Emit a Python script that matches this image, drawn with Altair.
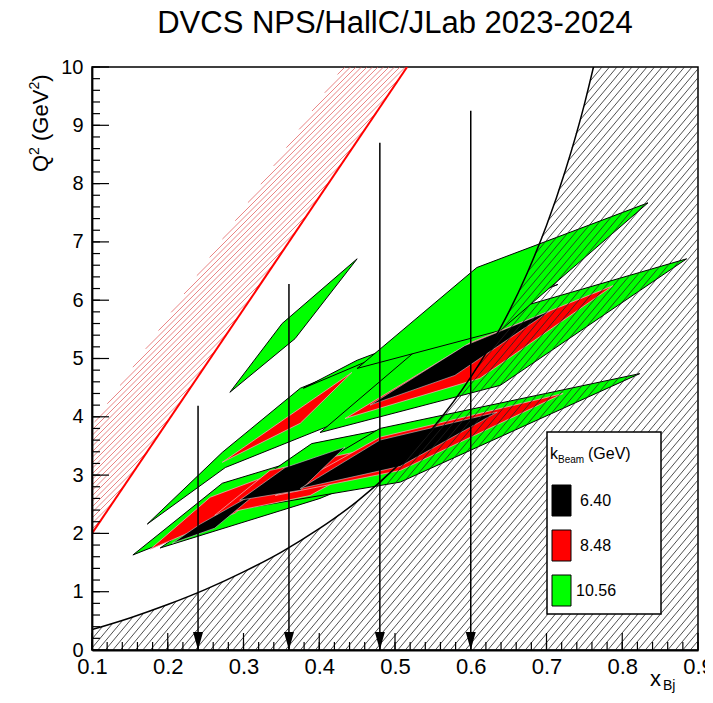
import altair as alt
import numpy as np
import pandas as pd

FONT = "Liberation Sans"
TITLE = "DVCS NPS/HallC/JLab 2023-2024"

X_TICKS = [0.1, 0.2, 0.3, 0.4, 0.5, 0.6, 0.7, 0.8, 0.9]
Y_TICKS = [0, 1, 2, 3, 4, 5, 6, 7, 8, 9, 10]

# kinematic limit curve (black)
CURVE_X = [0.10, 0.15, 0.20, 0.25, 0.30, 0.35, 0.40, 0.45, 0.50, 0.55, 0.60, 0.625, 0.65, 0.675, 0.70, 0.725, 0.75, 0.762]
CURVE_Q = [0.35, 0.55, 0.78, 1.04, 1.34, 1.68, 2.08, 2.55, 3.12, 3.81, 4.68, 5.20, 5.79, 6.48, 7.28, 8.23, 9.36, 10.0]

# red limit line and edge of its hatched band
RED_LINE_X = [0.10, 0.516]
RED_LINE_Q = [2.0, 10.0]
BAND_EDGE_X = [0.10, 0.431]
BAND_EDGE_Q = [3.85, 10.0]

# arrows at the nominal x_Bj settings
ARROW_X = [0.24, 0.36, 0.48, 0.60]
ARROW_TOP = [4.19, 6.28, 8.70, 9.25]

# acceptance polygons (x_Bj, Q^2)
# 10.56 GeV (green)
G1_X = [0.154, 0.272, 0.414, 0.295]; G1_Q = [1.63, 2.86, 3.42, 2.36]
G2_X = [0.190, 0.390, 0.742, 0.401]; G2_Q = [1.75, 3.54, 4.45, 2.60]
G3_X = [0.302, 0.480, 0.823, 0.507]; G3_Q = [2.43, 3.80, 4.74, 2.88]
G4_X = [0.173, 0.272, 0.375, 0.480, 0.599, 0.414, 0.276]; G4_Q = [2.16, 3.39, 4.49, 5.05, 5.22, 3.85, 3.13]
G5_X = [0.282, 0.351, 0.450, 0.368]; G5_Q = [4.42, 5.60, 6.71, 5.34]
G6_X = [0.379, 0.450, 0.715, 0.559]; G6_Q = [4.49, 4.97, 6.27, 5.48]
G7_X = [0.401, 0.559, 0.885, 0.639]; G7_Q = [3.73, 5.48, 6.71, 4.54]
G8_X = [0.450, 0.608, 0.834, 0.639]; G8_Q = [4.83, 6.56, 7.67, 5.48]
# 8.48 GeV (red)
R1_X = [0.177, 0.256, 0.361, 0.289]; R1_Q = [1.73, 2.62, 3.13, 2.35]
R2_X = [0.262, 0.335, 0.520, 0.388]; R2_Q = [2.31, 3.08, 3.60, 2.65]
R3_X = [0.342, 0.480, 0.722, 0.507]; R3_Q = [2.65, 3.65, 4.40, 3.08]
R4_X = [0.272, 0.355, 0.443, 0.375]; R4_Q = [3.22, 3.97, 4.76, 3.89]
R7_X = [0.434, 0.599, 0.788, 0.612]; R7_Q = [3.97, 5.27, 6.25, 4.66]
# 6.40 GeV (black)
B1_X = [0.206, 0.243, 0.322, 0.262]; B1_Q = [1.83, 2.16, 2.74, 2.09]
B2_X = [0.295, 0.355, 0.434, 0.375]; B2_Q = [2.57, 3.13, 3.48, 2.74]
B3_X = [0.375, 0.480, 0.635, 0.507]; B3_Q = [2.77, 3.60, 4.08, 3.15]
B7_X = [0.467, 0.592, 0.705, 0.579]; B7_Q = [4.20, 5.22, 5.82, 4.71]

GREEN = [(G1_X, G1_Q), (G2_X, G2_Q), (G3_X, G3_Q), (G4_X, G4_Q),
         (G5_X, G5_Q), (G6_X, G6_Q), (G7_X, G7_Q), (G8_X, G8_Q)]
RED = [(R1_X, R1_Q), (R2_X, R2_Q), (R3_X, R3_Q), (R4_X, R4_Q), (R7_X, R7_Q)]
BLACK = [(B1_X, B1_Q), (B2_X, B2_Q), (B3_X, B3_Q), (B7_X, B7_Q)]

LEGEND_LABELS = ["6.40", "8.48", "10.56"]
LEGEND_COLORS = ["#000000", "#ff0000", "#00ff00"]

W, H = 606, 583
XS = alt.Scale(domain=[0.1, 0.9], nice=False, zero=False)
YS = alt.Scale(domain=[0, 10], nice=False, zero=False)

X_AXIS = alt.Axis(values=X_TICKS, format=".1f", labelFontSize=22, labelFont=FONT, labelColor="black",
                  ticks=False, tickSize=0, grid=False, domainColor="black", domainWidth=1.8,
                  labelPadding=6, title=None, zindex=1, labelFlush=False, labelOverlap=False)
Y_AXIS = alt.Axis(values=Y_TICKS, format="d", labelFontSize=20, labelFont=FONT, labelColor="black",
                  ticks=False, tickSize=0, grid=False, domainColor="black", domainWidth=1.8,
                  labelPadding=9, title=None, zindex=1, labelFlush=False, labelOverlap=False)


def X(f):
    return alt.X(f, type="quantitative", scale=XS, axis=X_AXIS)


def Y(f):
    return alt.Y(f, type="quantitative", scale=YS, axis=Y_AXIS)


def poly_df(polys):
    rows = []
    for pid, (xs, qs) in enumerate(polys):
        n = len(xs)
        for i in range(n + 1):
            rows.append({"pid": pid, "i": i, "x": xs[i % n], "q": qs[i % n]})
    return pd.DataFrame(rows)


def poly_layer(polys, fill, stroke, sw):
    return alt.Chart(poly_df(polys)).mark_line(
        fill=fill, stroke=stroke, strokeWidth=sw, strokeJoin="miter", clip=True
    ).encode(x=X("x"), y=Y("q"), detail="pid:N", order="i:Q")


PX_PER_X = W / 0.8
PX_PER_Q = H / 10.0


def hatch(angle_deg, spacing_px, lo, hi):
    k = np.tan(np.radians(angle_deg)) * PX_PER_X / PX_PER_Q
    xs = np.linspace(0.1, 0.9, 6001)
    lo_v = np.maximum(lo(xs), 0.0)
    hi_v = np.minimum(hi(xs), 10.0)
    step = spacing_px / PX_PER_X
    segs = []
    for x0 in np.arange(0.1 - 10.0 / k - step, 0.9 + step, step):
        q = k * (xs - x0)
        m = (q >= lo_v) & (q <= hi_v)
        if not m.any():
            continue
        idx = np.flatnonzero(m)
        br = np.where(np.diff(idx) > 1)[0]
        starts = np.concatenate([[idx[0]], idx[br + 1]])
        ends = np.concatenate([idx[br], [idx[-1]]])
        for s, e in zip(starts, ends):
            if e > s:
                segs.append((xs[s], q[s], xs[e], q[e]))
    return pd.DataFrame(segs, columns=["x", "q", "x2", "q2"])


black_hatch = hatch(
    50, 7.5,
    lambda x: np.zeros_like(x),
    lambda x: np.interp(x, CURVE_X, CURVE_Q, right=1e9),
)
red_hatch = hatch(
    45, 5.5,
    lambda x: np.interp(x, RED_LINE_X, RED_LINE_Q, right=1e9),
    lambda x: np.interp(x, BAND_EDGE_X, BAND_EDGE_Q, right=1e9),
)

one = pd.DataFrame({"a": [0]})


def label(text, x, y, size, align="left", baseline="alphabetic", angle=0):
    return alt.Chart(one).mark_text(text=text, font=FONT, fontSize=size, align=align,
                                    baseline=baseline, angle=angle, color="black").encode(
        x=alt.value(x), y=alt.value(y))


layers = []

# red hatched band + red line
layers.append(alt.Chart(red_hatch).mark_rule(color="#e05050", strokeWidth=0.7, clip=True).encode(
    x=X("x"), y=Y("q"), x2="x2", y2="q2"))
layers.append(alt.Chart(pd.DataFrame({"x": RED_LINE_X, "q": RED_LINE_Q})).mark_line(
    color="#ff0000", strokeWidth=2, clip=True).encode(x=X("x"), y=Y("q")))

# acceptance polygons
layers.append(poly_layer(GREEN, "#00ff00", "#000000", 1.0))
layers.append(poly_layer(RED, "#ff0000", "#e8b0b0", 0.8))
layers.append(poly_layer(BLACK, "#000000", "#c8c8c8", 0.6))

# hatched excluded region
layers.append(alt.Chart(black_hatch).mark_rule(color="#222222", strokeWidth=0.8, clip=True).encode(
    x=X("x"), y=Y("q"), x2="x2", y2="q2"))

# kinematic curve
layers.append(alt.Chart(pd.DataFrame({"x": CURVE_X, "q": CURVE_Q})).mark_line(
    color="black", strokeWidth=1.5, interpolate="monotone", clip=True).encode(x=X("x"), y=Y("q")))

# arrows
arrows = pd.DataFrame({"x": ARROW_X, "top": ARROW_TOP, "bottom": [0] * len(ARROW_X)})
layers.append(alt.Chart(arrows).mark_rule(color="black", strokeWidth=1.5).encode(
    x=X("x"), y=Y("top"), y2="bottom"))
layers.append(alt.Chart(arrows).mark_point(
    shape="M -0.55 -1 L 0.55 -1 L 0 1 Z", filled=True, size=330, color="black",
    opacity=1, yOffset=-9).encode(x=X("x"), y=Y("bottom")))

# inward ticks
x_minor = pd.DataFrame({"v": np.round(np.arange(0.1, 0.9001, 0.02), 3)})
y_minor = pd.DataFrame({"v": np.round(np.arange(0, 10.001, 0.2), 2)})
layers.append(alt.Chart(x_minor).mark_rule(color="black", strokeWidth=1.2).encode(
    x=X("v"), y=alt.value(H), y2=alt.value(H - 8)))
layers.append(alt.Chart(pd.DataFrame({"v": X_TICKS})).mark_rule(color="black", strokeWidth=1.2).encode(
    x=X("v"), y=alt.value(H), y2=alt.value(H - 17)))
layers.append(alt.Chart(y_minor).mark_rule(color="black", strokeWidth=1.2).encode(
    y=Y("v"), x=alt.value(0), x2=alt.value(8)))
layers.append(alt.Chart(pd.DataFrame({"v": Y_TICKS})).mark_rule(color="black", strokeWidth=1.2).encode(
    y=Y("v"), x=alt.value(0), x2=alt.value(17)))

# legend
layers.append(alt.Chart(one).mark_rect(fill="white", stroke="black", strokeWidth=1.5).encode(
    x=alt.value(455), x2=alt.value(569), y=alt.value(365), y2=alt.value(547)))
layers.append(label("k", 458, 392, 16))
layers.append(label("Beam", 466, 396, 10))
layers.append(label("(GeV)", 496, 392, 16))
for i, (lab, col) in enumerate(zip(LEGEND_LABELS, LEGEND_COLORS)):
    y0 = 418 + 45 * i
    layers.append(alt.Chart(one).mark_rect(fill=col, stroke="black", strokeWidth=1).encode(
        x=alt.value(460), x2=alt.value(479), y=alt.value(y0), y2=alt.value(y0 + 31)))
    layers.append(label(lab, 488 if len(lab) == 4 else 484, y0 + 16, 16, baseline="middle"))

# chart title
layers.append(label(TITLE, W / 2, -34, 31, align="center"))

# y title: Q^2 (GeV^2), rotated, pieces for the superscripts
layers.append(label("Q", -44, 105, 22, angle=270))
layers.append(label("2", -53, 88, 14, angle=270))
layers.append(label("(GeV", -44, 74, 22, angle=270))
layers.append(label("2", -53, 22.6, 14, angle=270))
layers.append(label(")", -44, 14.8, 22, angle=270))

# x title: x_Bj
layers.append(label("x", 558, 619, 22))
layers.append(label("Bj", 571, 623, 14))

chart = alt.layer(*layers).properties(
    width=W, height=H,
    autosize=alt.AutoSizeParams(type="none"),
    padding={"left": 84, "top": 59, "right": 7, "bottom": 45},
).configure_view(stroke="black", strokeWidth=1.5)

chart.save("out.html", embed_options={"renderer": "svg", "actions": False})
